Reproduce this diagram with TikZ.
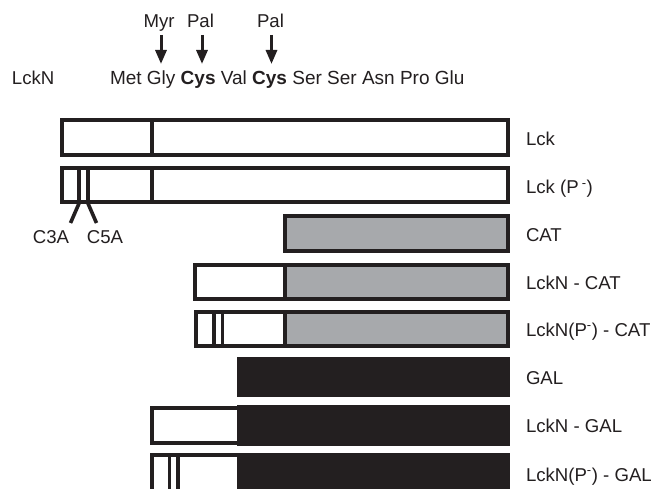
\documentclass[tikz,border=0pt]{standalone}
\usepackage{fontspec}
\setmainfont{Liberation Sans}
\usetikzlibrary{arrows.meta}
\definecolor{ink}{HTML}{231F20}
\definecolor{catgray}{HTML}{A7A9AC}
\tikzset{
  lbl/.style={inner sep=0pt, outer sep=0pt, text=ink, font=\fontsize{18.6}{22}\selectfont},
  boxline/.style={draw=ink, line width=4pt},
  inner/.style={draw=ink, line width=3.6pt},
  modarrow/.style={draw=ink, line width=3pt, -{Triangle[width=11pt,length=14pt]}},
  mutline/.style={draw=ink, line width=3.6pt},
}
\begin{document}
\begin{tikzpicture}[x=1pt,y=-1pt]
\useasboundingbox (0,0) rectangle (661,489);
\clip (0,0) rectangle (661,489);
\fill[white] (0,0) rectangle (661,489);

% top labels and sequence
\node[lbl, anchor=base] (myr) at (159,28) {Myr};
\node[lbl, anchor=base] (pal1) at (200.5,28) {Pal};
\node[lbl, anchor=base] (pal2) at (270.5,28) {Pal};
\node[lbl, anchor=base west] (lckn) at (12,85) {LckN};
\node[lbl, anchor=base west, font=\fontsize{19}{22}\selectfont] (seq) at (110,85)
  {Met Gly \textbf{Cys} Val \textbf{Cys} Ser Ser Asn Pro Glu};
\coordinate (a1s) at (161,35);  \coordinate (a1e) at (161,64);
\coordinate (a2s) at (202,35);  \coordinate (a2e) at (202,64);
\coordinate (a3s) at (271.5,35);\coordinate (a3e) at (271.5,64);
\draw[modarrow] (a1s) -- (a1e);
\draw[modarrow] (a2s) -- (a2e);
\draw[modarrow] (a3s) -- (a3e);

% Row 1: Lck
\draw[boxline] (62,120) rectangle (507.5,155);
\draw[boxline] (152,120) -- (152,155);
\node[lbl, anchor=base west] (r1) at (526,146) {Lck};

% Row 2: Lck (P-)
\draw[boxline] (62,168.5) rectangle (507.5,202);
\draw[boxline] (152,168.5) -- (152,202);
\draw[inner] (79.2,168.5) -- (79.2,202);
\draw[inner] (87.8,168.5) -- (87.8,202);
\node[lbl, anchor=base west] (r2) at (526,194) {Lck (P\,\textsuperscript{-})};
\node[lbl, anchor=base] (c3a) at (51,243) {C3A};
\node[lbl, anchor=base] (c5a) at (105,243) {C5A};
\coordinate (m1a) at (79.2,203); \coordinate (m1b) at (70.5,223);
\coordinate (m2a) at (87.8,203); \coordinate (m2b) at (96.5,223);
\draw[mutline] (m1a) -- (m1b);
\draw[mutline] (m2a) -- (m2b);

% Row 3: CAT
\fill[catgray] (284.7,216) rectangle (507.5,250.7);
\draw[boxline] (284.7,216) rectangle (507.5,250.7);
\node[lbl, anchor=base west] (r3) at (526,241.5) {CAT};

% Row 4: LckN - CAT
\fill[catgray] (284.7,265.3) rectangle (507.5,299.3);
\draw[boxline] (195.3,265.3) rectangle (507.5,299.3);
\draw[boxline] (284.7,265.3) -- (284.7,299.3);
\node[lbl, anchor=base west] (r4) at (526,289) {LckN - CAT};

% Row 5: LckN(P-) - CAT
\fill[catgray] (284.7,312) rectangle (507.5,346);
\draw[boxline] (196,312) rectangle (507.5,346);
\draw[boxline] (284.7,312) -- (284.7,346);
\draw[inner] (213.7,312) -- (213.7,346);
\draw[inner] (222.3,312) -- (222.3,346);
\node[lbl, anchor=base west] (r5) at (526,336) {LckN(P\textsuperscript{-}) - CAT};

% Row 6: GAL
\fill[ink] (236.7,357.3) rectangle (510,397.3);
\node[lbl, anchor=base west] (r6) at (526,384) {GAL};

% Row 7: LckN - GAL
\draw[boxline] (238,407.6) -- (151.5,407.6) -- (151.5,442.8) -- (238,442.8);
\fill[ink] (236.7,405.3) rectangle (510,445.7);
\node[lbl, anchor=base west] (r7) at (526,432.5) {LckN - GAL};

% Row 8: LckN(P-) - GAL
\draw[boxline] (238,455.4) -- (151.5,455.4) -- (151.5,500);
\draw[inner] (169.3,455.4) -- (169.3,500);
\draw[inner] (178,455.4) -- (178,500);
\fill[ink] (236.7,453.2) rectangle (510,500);
\node[lbl, anchor=base west] (r8) at (526,481) {LckN(P\textsuperscript{-}) - GAL};
\end{tikzpicture}
\end{document}
